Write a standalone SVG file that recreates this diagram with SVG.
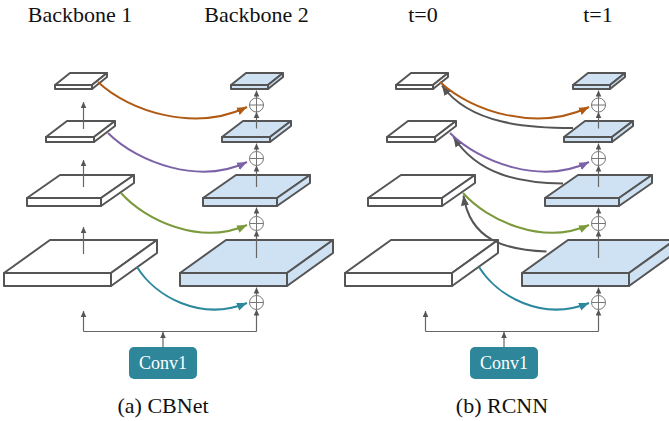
<svg xmlns="http://www.w3.org/2000/svg" width="669" height="421" viewBox="0 0 669 421">
<style>
.lbl{font-family:"Liberation Serif","Times New Roman","DejaVu Serif",serif;font-size:22px;fill:#111;text-anchor:middle}
.conv rect{fill:#2e869a}
.conv text{font-family:"Liberation Serif","Times New Roman","DejaVu Serif",serif;font-size:18px;fill:#fff;text-anchor:middle}
.v{stroke:#666;stroke-width:1.2;fill:none}
.c{fill:none;stroke-width:2}
</style>
<defs>
<marker id="mg" markerUnits="userSpaceOnUse" markerWidth="6" markerHeight="6" refX="6" refY="3" orient="auto"><path d="M0,0.2 L6,3 L0,5.8 Z" fill="#555"/></marker>
<marker id="mo" markerUnits="userSpaceOnUse" markerWidth="10" markerHeight="9" refX="10" refY="4.5" orient="auto"><path d="M0,0.5 L10,4.5 L0,8.5 Z" fill="#b05a14"/></marker>
<marker id="mp" markerUnits="userSpaceOnUse" markerWidth="10" markerHeight="9" refX="10" refY="4.5" orient="auto"><path d="M0,0.5 L10,4.5 L0,8.5 Z" fill="#7c63a8"/></marker>
<marker id="mgr" markerUnits="userSpaceOnUse" markerWidth="10" markerHeight="9" refX="10" refY="4.5" orient="auto"><path d="M0,0.5 L10,4.5 L0,8.5 Z" fill="#7b9a3c"/></marker>
<marker id="mt" markerUnits="userSpaceOnUse" markerWidth="10" markerHeight="9" refX="10" refY="4.5" orient="auto"><path d="M0,0.5 L10,4.5 L0,8.5 Z" fill="#2c889c"/></marker>
<marker id="mk" markerUnits="userSpaceOnUse" markerWidth="10" markerHeight="9" refX="10" refY="4.5" orient="auto"><path d="M0,0.5 L10,4.5 L0,8.5 Z" fill="#555"/></marker>
<g id="s1" stroke="#555" stroke-width="2" stroke-linejoin="round">
<polygon points="55,85 92,85 107,73 70,73"/>
<polygon points="92,85 107,73 107,77 92,89"/>
<rect x="55" y="85" width="37" height="4"/>
</g>
<g id="s2" stroke="#555" stroke-width="2" stroke-linejoin="round">
<polygon points="46,137 94,137 115,121 67,121"/>
<polygon points="94,137 115,121 115,126 94,142"/>
<rect x="46" y="137" width="48" height="5"/>
</g>
<g id="s3" stroke="#555" stroke-width="2" stroke-linejoin="round">
<polygon points="27,198 101,198 134,175 60,175"/>
<polygon points="101,198 134,175 134,183 101,206"/>
<rect x="27" y="198" width="74" height="8"/>
</g>
<g id="s4" stroke="#555" stroke-width="2" stroke-linejoin="round">
<polygon points="4,273 111,273 157,240 50,240"/>
<polygon points="111,273 157,240 157,253 111,286"/>
<rect x="4" y="273" width="107" height="13"/>
</g>
<g id="plus" stroke="#777" stroke-width="1">
<circle cx="0" cy="0" r="7" fill="#fff"/>
<line x1="-7" y1="0" x2="7" y2="0"/>
<line x1="0" y1="-7" x2="0" y2="7"/>
</g>
</defs>

<!-- labels -->
<g id="labels">
<text class="lbl" x="80" y="22">Backbone 1</text>
<text class="lbl" x="256.5" y="22">Backbone 2</text>
<text class="lbl" x="423" y="22">t=0</text>
<text class="lbl" x="598" y="22">t=1</text>
<text class="lbl" x="163" y="413">(a) CBNet</text>
<text class="lbl" x="502" y="413">(b) RCNN</text>
</g>

<!-- panel a: backbone 1 -->
<g id="a-b1-p1"><use href="#s1" fill="#fff"/></g>
<g id="a-b1-p2"><use href="#s2" fill="#fff"/></g>
<g id="a-b1-p3"><use href="#s3" fill="#fff"/></g>
<g id="a-b1-p4"><use href="#s4" fill="#fff"/></g>
<!-- panel a: backbone 2 -->
<g id="a-b2-p1" transform="translate(176,0)"><use href="#s1" fill="#cfe2f3"/></g>
<g id="a-b2-p2" transform="translate(176,0)"><use href="#s2" fill="#cfe2f3"/></g>
<g id="a-b2-p3" transform="translate(176,0)"><use href="#s3" fill="#cfe2f3"/></g>
<g id="a-b2-p4" transform="translate(176,0)"><use href="#s4" fill="#cfe2f3"/></g>
<!-- panel b: t=0 -->
<g id="b-t0-p1" transform="translate(341,0)"><use href="#s1" fill="#fff"/></g>
<g id="b-t0-p2" transform="translate(341,0)"><use href="#s2" fill="#fff"/></g>
<g id="b-t0-p3" transform="translate(341,0)"><use href="#s3" fill="#fff"/></g>
<g id="b-t0-p4" transform="translate(341,0)"><use href="#s4" fill="#fff"/></g>
<!-- panel b: t=1 -->
<g id="b-t1-p1" transform="translate(518,0)"><use href="#s1" fill="#cfe2f3"/></g>
<g id="b-t1-p2" transform="translate(518,0)"><use href="#s2" fill="#cfe2f3"/></g>
<g id="b-t1-p3" transform="translate(518,0)"><use href="#s3" fill="#cfe2f3"/></g>
<g id="b-t1-p4" transform="translate(518,0)"><use href="#s4" fill="#cfe2f3"/></g>

<g id="connectors">
<path class="v" d="M83.5,129 V102" marker-end="url(#mg)"/>
<path class="v" d="M83.5,187 V160" marker-end="url(#mg)"/>
<path class="v" d="M83.5,254 V227" marker-end="url(#mg)"/>
<path class="v" d="M256.5,295.5 V287.5" marker-end="url(#mg)"/>
<path class="v" d="M256.5,258 V230.5" marker-end="url(#mg)"/>
<path class="v" d="M256.5,216.5 V207.5" marker-end="url(#mg)"/>
<path class="v" d="M256.5,187 V165.5" marker-end="url(#mg)"/>
<path class="v" d="M256.5,151.5 V143.5" marker-end="url(#mg)"/>
<path class="v" d="M256.5,128.5 V112" marker-end="url(#mg)"/>
<path class="v" d="M256.5,98 V90.5" marker-end="url(#mg)"/>
<path class="v" d="M83.5,331.5 H256.5"/>
<path class="v" d="M83.5,331.5 V311" marker-end="url(#mg)"/>
<path class="v" d="M256.5,331.5 V309.5" marker-end="url(#mg)"/>
<path class="v" d="M163,347 V332" marker-end="url(#mg)"/>
<path class="c" stroke="#b05a14" d="M98,82 C130,112 195,132 247,107" marker-end="url(#mo)"/>
<path class="c" stroke="#7c63a8" d="M108,133 C138,163 200,185 247,162" marker-end="url(#mp)"/>
<path class="c" stroke="#7b9a3c" d="M121,193 C145,220 200,246 247,225" marker-end="url(#mgr)"/>
<path class="c" stroke="#2c889c" d="M137,267 C155,296 200,322 247,303" marker-end="url(#mt)"/>

<path class="v" d="M598.5,295.5 V287.5" marker-end="url(#mg)"/>
<path class="v" d="M598.5,258 V230.5" marker-end="url(#mg)"/>
<path class="v" d="M598.5,216.5 V207.5" marker-end="url(#mg)"/>
<path class="v" d="M598.5,187 V165.5" marker-end="url(#mg)"/>
<path class="v" d="M598.5,151.5 V143.5" marker-end="url(#mg)"/>
<path class="v" d="M598.5,128.5 V112" marker-end="url(#mg)"/>
<path class="v" d="M598.5,98 V90.5" marker-end="url(#mg)"/>
<path class="v" d="M425.5,331.5 H598.5"/>
<path class="v" d="M425.5,331.5 V311" marker-end="url(#mg)"/>
<path class="v" d="M598.5,331.5 V309.5" marker-end="url(#mg)"/>
<path class="v" d="M504,347 V332" marker-end="url(#mg)"/>
<path class="c" stroke="#555" d="M573,128 C530,128 470,125 442,85.5" marker-end="url(#mk)"/>
<path class="c" stroke="#555" d="M563,183.5 C520,183 478,175 453.5,137" marker-end="url(#mk)"/>
<path class="c" stroke="#555" d="M546.5,251.5 C505,250 470,240 463.5,195.5" marker-end="url(#mk)"/>
<path class="c" stroke="#b05a14" transform="translate(342,0)" d="M98,82 C130,112 195,132 247,107" marker-end="url(#mo)"/>
<path class="c" stroke="#7c63a8" transform="translate(342,0)" d="M108,133 C138,163 200,185 247,162" marker-end="url(#mp)"/>
<path class="c" stroke="#7b9a3c" transform="translate(342,0)" d="M121,193 C145,220 200,246 247,225" marker-end="url(#mgr)"/>
<path class="c" stroke="#2c889c" transform="translate(342,0)" d="M137,267 C155,296 200,322 247,303" marker-end="url(#mt)"/>
</g>

<g id="a-add1" transform="translate(256.5,105)"><use href="#plus"/></g>
<g id="a-add2" transform="translate(256.5,158.5)"><use href="#plus"/></g>
<g id="a-add3" transform="translate(256.5,223.5)"><use href="#plus"/></g>
<g id="a-add4" transform="translate(256.5,302.5)"><use href="#plus"/></g>
<g id="b-add1" transform="translate(598.5,105)"><use href="#plus"/></g>
<g id="b-add2" transform="translate(598.5,158.5)"><use href="#plus"/></g>
<g id="b-add3" transform="translate(598.5,223.5)"><use href="#plus"/></g>
<g id="b-add4" transform="translate(598.5,302.5)"><use href="#plus"/></g>

<g id="a-conv1" class="conv"><rect x="129" y="347" width="68" height="32" rx="5"/><text x="163" y="369">Conv1</text></g>
<g id="b-conv1" class="conv"><rect x="470" y="347" width="68" height="32" rx="5"/><text x="504" y="369">Conv1</text></g>
</svg>
